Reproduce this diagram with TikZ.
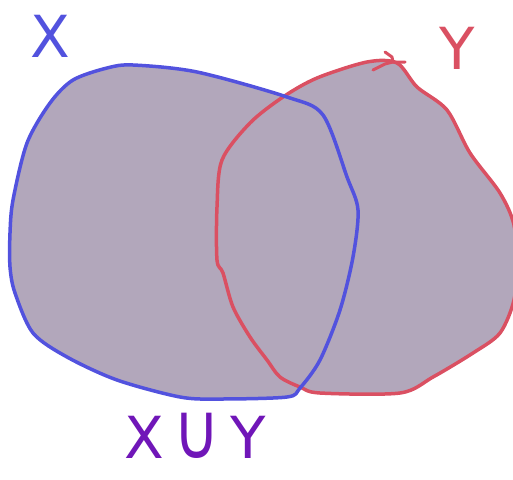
\documentclass[tikz,border=0pt]{standalone}
\usepackage{fontspec}
\setmainfont{DejaVu Sans}
\definecolor{setfill}{RGB}{178,167,187}
\definecolor{xblue}{RGB}{82,82,222}
\definecolor{yred}{RGB}{218,80,98}
\definecolor{upurple}{RGB}{112,22,184}
\tikzset{
  setline/.style={line width=3.5pt, line join=round, line cap=round},
  lbl/.style={inner sep=0pt, font=\fontsize{58}{58}\selectfont},
}
\begin{document}
\begin{tikzpicture}[x=1pt,y=-1pt]
\useasboundingbox (0,0) rectangle (513,479);
\def\setX{(10,267) (10,233) (13,200) (27,143) (50,103) (73,80) (107,68) (133,65) (197,72) (287,97) (323,115) (347,177) (358,210) (353,257) (340,310) (320,360) (300,388) (287,397) (220,399) (180,397) (117,380) (67,357) (33,333) (15,293)}
\def\setY{(217,260) (217,207) (222,160) (250,123) (283,97) (317,78) (367,62) (397,63) (417,87) (447,110) (470,153) (500,193) (514,225) (516,265) (514,300) (500,333) (473,353) (433,377) (400,393) (320,393) (300,387) (280,377) (267,360) (250,337) (233,307) (223,273)}
\fill[setfill] plot[smooth cycle, tension=0.5] coordinates {\setX};
\fill[setfill] plot[smooth cycle, tension=0.5] coordinates {\setY};
\draw[setline, yred] plot[smooth cycle, tension=0.5] coordinates {\setY};
\draw[setline, xblue] plot[smooth cycle, tension=0.5] coordinates {\setX};
\coordinate (t1) at (373,70);
\coordinate (t2) at (393,62);
\coordinate (t3) at (405,62);
\coordinate (t4) at (385,52);
\draw[setline, yred, line width=3pt] (t1) -- (385,64) -- (t2) -- (t3);
\draw[setline, yred, line width=3pt] (t4) -- (392,57) -- (t2);
\node[lbl, text=xblue] (lx) at (50,36) {X};
\node[lbl, text=yred] (ly) at (457,48) {Y};
\node[lbl, text=upurple] (lu) at (195,436) {X\,\scalebox{1.1}[1.35]{∪}\,Y};
\end{tikzpicture}
\end{document}
